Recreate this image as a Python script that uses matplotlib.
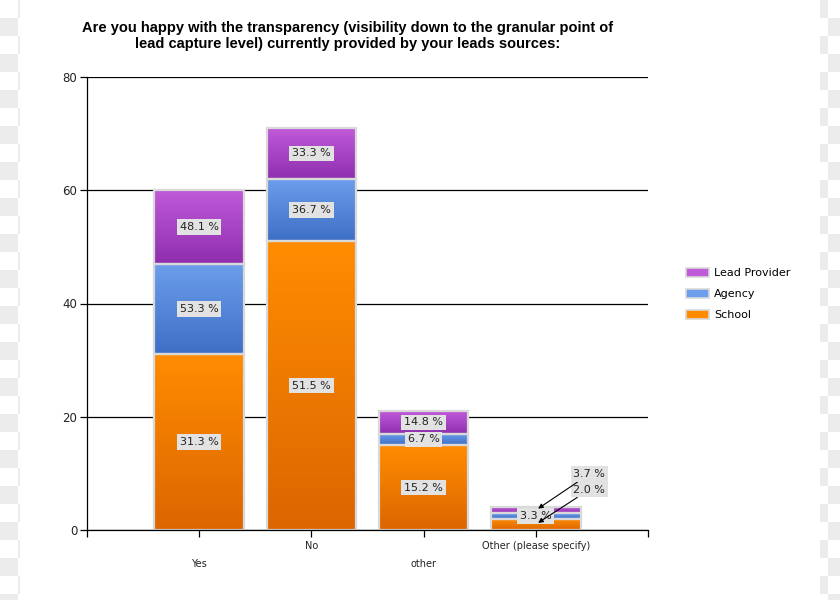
import numpy as np
import matplotlib
matplotlib.use('Agg')
import matplotlib.pyplot as plt
import matplotlib.transforms as mtransforms
from matplotlib.patches import Rectangle, Patch

# data
categories = ['Yes', 'No', 'other', 'Other (please specify)']
school = [31, 51, 15, 2]
agency = [16, 11, 2, 1]
lead_provider = [13, 9, 4, 1]

series = [
    ('School', school, '#ff8c00', '#dc6600'),
    ('Agency', agency, '#6c9eec', '#3e6fc6'),
    ('Lead Provider', lead_provider, '#bf5ad9', '#8f2fae'),
]

plt.rcParams['font.family'] = ['DejaVu Sans']

fig = plt.figure(figsize=(8.4, 6), dpi=100)
fig.patch.set_facecolor('white')

# checkerboard strips at the edges (transparent background look)
sq = 18 / 840.0
sqh = 18 / 600.0
for col in list(range(0, 2)) + list(range(45, 47)):
    for row in range(0, 34):
        if (col + row) % 2 == 1:
            x0 = col * sq
            if col < 45:
                left, right = x0, min(x0 + sq, 20 / 840.0)
            else:
                left, right = max(x0, 820 / 840.0), x0 + sq
            if right > left:
                fig.patches.append(Rectangle((left, 1 - (row + 1) * sqh), right - left, sqh,
                                             transform=fig.transFigure, facecolor='#ebebeb',
                                             edgecolor='none', zorder=0))

ax = fig.add_axes([87 / 840, 70 / 600, 561 / 840, 453 / 600])
ax.set_facecolor('white')

x = np.arange(1, len(categories) + 1)
width = 0.8
bottom = np.zeros(len(categories))
grad = np.linspace(0, 1, 64).reshape(-1, 1)

bars_by_series = []
for name, vals, top_c, bot_c in series:
    vals = np.array(vals, dtype=float)
    bars = ax.bar(x, vals, width, bottom=bottom, color='none', edgecolor='#d9d9d9',
                  linewidth=1.6, zorder=3)
    cmap = matplotlib.colors.LinearSegmentedColormap.from_list(name, [bot_c, top_c])
    for b in bars:
        x0, y0 = b.get_x(), b.get_y()
        w, h = b.get_width(), b.get_height()
        im = ax.imshow(grad, cmap=cmap, extent=(x0, x0 + w, y0, y0 + h), origin='lower',
                       aspect='auto', zorder=2, interpolation='bilinear')
        im.set_clip_path(b)
    bars_by_series.append((name, vals, bottom.copy()))
    bottom = bottom + vals

ax.set_xlim(0, 5)
ax.set_ylim(0, 80)

# data labels (percent of series total)
box = dict(boxstyle='square,pad=0.25', facecolor='#e2e2e2', edgecolor='none')
offsets = {('Lead Provider', 3): (50, 26), ('School', 3): (50, 25)}
for name, vals, bots in bars_by_series:
    total = vals.sum()
    for i, v in enumerate(vals):
        pct = '%.1f %%' % (v / total * 100)
        yc = bots[i] + v / 2.0
        if (name, i) in offsets:
            ax.annotate(pct, xy=(x[i], yc), xytext=offsets[(name, i)],
                        textcoords='offset points', ha='right', va='center',
                        fontsize=8, color='#222222', bbox=box, zorder=6,
                        arrowprops=dict(arrowstyle='-|>', color='black', lw=0.8,
                                        shrinkA=0, shrinkB=2, mutation_scale=7))
        else:
            ax.text(x[i], yc, pct, ha='center', va='center', fontsize=8,
                    color='#222222', bbox=box, zorder=5)

# grid and spines
ax.set_yticks([0, 20, 40, 60, 80])
ax.yaxis.grid(True, color='black', linewidth=0.9, zorder=1)
ax.set_axisbelow(True)
for s in ['top', 'right']:
    ax.spines[s].set_visible(False)
ax.spines['left'].set_linewidth(0.9)
ax.spines['bottom'].set_linewidth(0.9)
ax.spines['bottom'].set_zorder(4)

ax.set_xticks(range(0, 6))
ax.set_xticklabels([''] + categories + [''], fontsize=7, color='#222222')
ax.tick_params(axis='x', length=5, width=0.9, direction='out', pad=3)
ax.tick_params(axis='y', length=5, width=0.9, direction='out', labelsize=8.5,
               labelcolor='#222222', pad=2)

# staggered category labels
shift = mtransforms.ScaledTranslation(0, -0.18, fig.dpi_scale_trans)
for i, lab in enumerate(ax.get_xticklabels()):
    if i in (1, 3):
        lab.set_transform(lab.get_transform() + shift)

fig.text(348 / 840, 1 - 36 / 600,
         'Are you happy with the transparency (visibility down to the granular point of\n'
         'lead capture level) currently provided by your leads sources:',
         ha='center', va='center', fontsize=10.5, fontweight='bold',
         family=['Liberation Sans', 'DejaVu Sans'], linespacing=1.25)

handles = [Patch(facecolor=c, edgecolor='#d9d9d9', linewidth=1.2, label=n)
           for n, vals, c, bc in reversed(series)]
fig.legend(handles=handles, loc='center left', bbox_to_anchor=(676 / 840, 1 - 294 / 600),
           frameon=False, fontsize=8, handlelength=2.1, handleheight=0.9,
           labelspacing=0.95, handletextpad=0.4)

fig.savefig('out.png', dpi=100, facecolor='white')
